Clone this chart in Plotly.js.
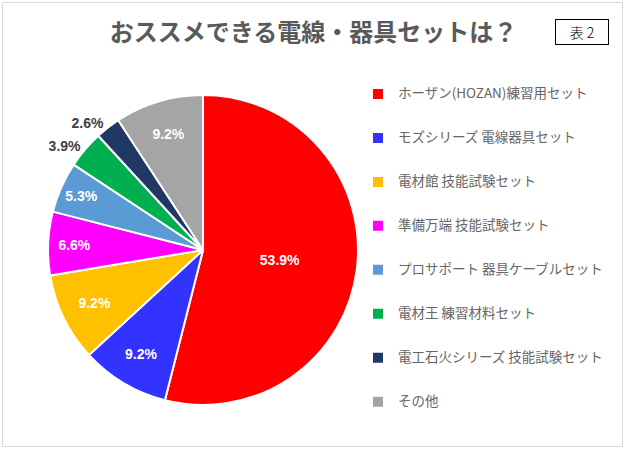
<!DOCTYPE html>
<html>
<head>
<meta charset="utf-8">
<script src="https://cdn.plot.ly/plotly-3.0.1.min.js"></script>
<style>html,body{margin:0;padding:0;background:#fff;}#chart{width:627px;height:450px;}</style>
</head>
<body>
<div id="chart"></div>
<script>
const categories = [
  'ホーザン(HOZAN)練習用セット',
  'モズシリーズ 電線器具セット',
  '電材館 技能試験セット',
  '準備万端 技能試験セット',
  'プロサポート 器具ケーブルセット',
  '電材王 練習材料セット',
  '電工石火シリーズ 技能試験セット',
  'その他'
];
const shares = [53.9, 9.2, 9.2, 6.6, 5.3, 3.9, 2.6, 9.2];
const sliceColors = ['#FF0000', '#3333FF', '#FFC000', '#FF00FF', '#5B9BD5', '#00B050', '#203864', '#A5A5A5'];
const labelPlacement = ['inside', 'inside', 'inside', 'inside', 'inside', 'outside', 'outside', 'inside'];
const chartTitle = 'おススメできる電線・器具セットは？';
const tableTag = '表 2';

const legendLabels = categories.map(c => '<br><span style="font-size:13.5px">' + c + '</span><br>');

const trace = {
  type: 'pie',
  labels: legendLabels,
  values: shares,
  sort: false,
  direction: 'clockwise',
  rotation: 0,
  marker: {colors: sliceColors, line: {color: '#FFFFFF', width: 2}},
  texttemplate: '%{value:.1f}%',
  textposition: labelPlacement,
  insidetextorientation: 'horizontal',
  insidetextfont: {family: 'Liberation Sans, Arial, sans-serif', size: 14, color: '#FFFFFF', weight: 'bold'},
  outsidetextfont: {family: 'Liberation Sans, Arial, sans-serif', size: 14, color: '#404040', weight: 'bold'},
  domain: {x: [0.0766, 0.571], y: [0.1, 0.789]},
  hoverinfo: 'none',
  showlegend: true
};

const layout = {
  width: 627,
  height: 450,
  margin: {l: 0, r: 0, t: 0, b: 0},
  paper_bgcolor: '#FFFFFF',
  font: {family: 'Noto Sans CJK JP, sans-serif', color: '#595959'},
  title: {
    text: chartTitle,
    font: {family: 'Noto Sans CJK JP, sans-serif', size: 24, color: '#595959', weight: 'bold'},
    x: 0.5, xanchor: 'center', y: 1 - 33 / 450, yanchor: 'middle'
  },
  legend: {
    x: 358 / 627, xanchor: 'left',
    y: 1 - 67 / 450, yanchor: 'top',
    font: {family: 'Noto Sans CJK JP, sans-serif', size: 10.5, color: '#666666'},
    bgcolor: 'rgba(0,0,0,0)',
    traceorder: 'normal'
  },
  shapes: [{
    type: 'rect', xref: 'paper', yref: 'paper',
    x0: 2.5 / 627, x1: 622.5 / 627, y0: 1 - 446.5 / 450, y1: 1 - 2.5 / 450,
    line: {color: '#D9D9D9', width: 1}, fillcolor: 'rgba(0,0,0,0)'
  }],
  annotations: [{
    xref: 'paper', yref: 'paper',
    x: 582 / 627, y: 1 - 32 / 450, xanchor: 'center', yanchor: 'middle',
    text: tableTag, showarrow: false,
    font: {family: 'Noto Sans CJK JP, sans-serif', size: 14, color: '#000000', weight: 300},
    bordercolor: '#000000', borderwidth: 1, borderpad: 3,
    width: 46, height: 18, bgcolor: '#FFFFFF'
  }]
};

Plotly.newPlot('chart', [trace], layout, {staticPlot: true, displayModeBar: false});
</script>
</body>
</html>
